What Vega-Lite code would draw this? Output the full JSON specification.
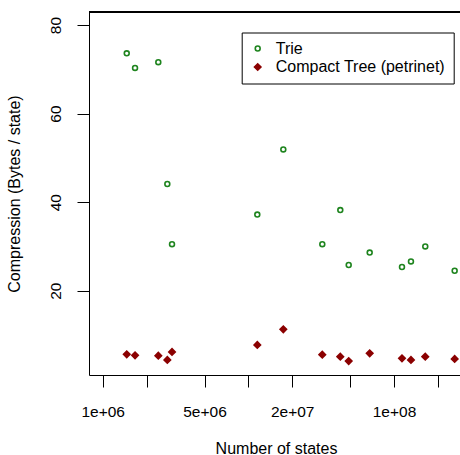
{
  "$schema": "https://vega.github.io/schema/vega-lite/v6.json",
  "width": 371,
  "height": 363,
  "autosize": "none",
  "padding": {"left": 89, "top": 12, "right": 0, "bottom": 80},
  "background": "white",
  "config": {
    "view": {"stroke": null},
    "font": "Liberation Sans",
    "axis": {
      "grid": false,
      "domainColor": "black",
      "domainWidth": 1,
      "tickColor": "black",
      "tickWidth": 1,
      "tickSize": 12,
      "labelColor": "black",
      "titleColor": "black",
      "labelFont": "Liberation Sans",
      "titleFont": "Liberation Sans",
      "labelFontSize": 15.5,
      "titleFontSize": 16,
      "titleFontWeight": "normal"
    }
  },
  "data": {
    "values": [
      {"states": 1462000, "bytes": 73.6, "method": "Trie"},
      {"states": 1667000, "bytes": 70.3, "method": "Trie"},
      {"states": 2408000, "bytes": 71.6, "method": "Trie"},
      {"states": 2777000, "bytes": 44.1, "method": "Trie"},
      {"states": 2991000, "bytes": 30.5, "method": "Trie"},
      {"states": 11520000, "bytes": 37.2, "method": "Trie"},
      {"states": 17380000, "bytes": 51.9, "method": "Trie"},
      {"states": 32190000, "bytes": 30.5, "method": "Trie"},
      {"states": 42790000, "bytes": 38.2, "method": "Trie"},
      {"states": 48870000, "bytes": 25.8, "method": "Trie"},
      {"states": 68100000, "bytes": 28.6, "method": "Trie"},
      {"states": 113500000, "bytes": 25.35, "method": "Trie"},
      {"states": 130800000, "bytes": 26.6, "method": "Trie"},
      {"states": 164000000, "bytes": 30.0, "method": "Trie"},
      {"states": 261000000, "bytes": 24.5, "method": "Trie"},
      {"states": 1462000, "bytes": 5.64, "method": "Compact Tree (petrinet)"},
      {"states": 1667000, "bytes": 5.41, "method": "Compact Tree (petrinet)"},
      {"states": 2408000, "bytes": 5.32, "method": "Compact Tree (petrinet)"},
      {"states": 2777000, "bytes": 4.35, "method": "Compact Tree (petrinet)"},
      {"states": 2991000, "bytes": 6.16, "method": "Compact Tree (petrinet)"},
      {"states": 11520000, "bytes": 7.74, "method": "Compact Tree (petrinet)"},
      {"states": 17380000, "bytes": 11.28, "method": "Compact Tree (petrinet)"},
      {"states": 32190000, "bytes": 5.55, "method": "Compact Tree (petrinet)"},
      {"states": 42790000, "bytes": 5.1, "method": "Compact Tree (petrinet)"},
      {"states": 48870000, "bytes": 4.12, "method": "Compact Tree (petrinet)"},
      {"states": 68100000, "bytes": 5.86, "method": "Compact Tree (petrinet)"},
      {"states": 113500000, "bytes": 4.73, "method": "Compact Tree (petrinet)"},
      {"states": 130800000, "bytes": 4.35, "method": "Compact Tree (petrinet)"},
      {"states": 164000000, "bytes": 5.1, "method": "Compact Tree (petrinet)"},
      {"states": 261000000, "bytes": 4.58, "method": "Compact Tree (petrinet)"}
    ]
  },
  "layer": [
    {
      "mark": {"type": "point", "filled": false, "strokeWidth": 1.6, "opacity": 1},
      "encoding": {
        "x": {
          "field": "states",
          "type": "quantitative",
          "scale": {"type": "log", "domain": [805000, 284000000], "nice": false},
          "axis": {
            "orient": "bottom",
            "values": [1000000, 2000000, 5000000, 10000000, 20000000, 50000000, 100000000, 200000000],
            "labelExpr": "datum.value == 1000000 ? '1e+06' : datum.value == 5000000 ? '5e+06' : datum.value == 20000000 ? '2e+07' : datum.value == 100000000 ? '1e+08' : ''",
            "labelBaseline": "alphabetic",
            "labelPadding": 29.5,
            "labelFlush": false,
            "labelOverlap": false,
            "title": "Number of states",
            "titleBaseline": "alphabetic",
            "titleX": 187,
            "titleY": 78
          }
        },
        "y": {
          "field": "bytes",
          "type": "quantitative",
          "scale": {"domain": [0.96, 82.94], "nice": false, "zero": false},
          "axis": {
            "values": [20, 40, 60, 80],
            "labelAngle": -90,
            "labelAlign": "center",
            "labelBaseline": "bottom",
            "labelPadding": 14,
            "title": "Compression (Bytes / state)",
            "titleAngle": -90,
            "titleAlign": "center",
            "titleBaseline": "alphabetic",
            "titleX": -70,
            "titleY": 181.5
          }
        },
        "color": {
          "field": "method",
          "type": "nominal",
          "scale": {"domain": ["Trie", "Compact Tree (petrinet)"], "range": ["#1E841E", "#8B0000"]},
          "legend": {
            "orient": "none",
            "legendX": 152.7,
            "legendY": 20.5,
            "title": null,
            "padding": 8,
            "strokeColor": "black",
            "fillColor": "white",
            "cornerRadius": 0,
            "labelFont": "Liberation Sans",
            "labelFontSize": 16,
            "labelColor": "black",
            "labelLimit": 400,
            "rowPadding": 2.5,
            "labelOffset": 10,
            "symbolStrokeWidth": 1.6
          }
        },
        "fill": {
          "field": "method",
          "type": "nominal",
          "scale": {"domain": ["Trie", "Compact Tree (petrinet)"], "range": ["transparent", "#8B0000"]}
        },
        "shape": {
          "field": "method",
          "type": "nominal",
          "scale": {"domain": ["Trie", "Compact Tree (petrinet)"], "range": ["circle", "diamond"]}
        },
        "size": {
          "field": "method",
          "type": "nominal",
          "scale": {"domain": ["Trie", "Compact Tree (petrinet)"], "range": [24, 42]}
        }
      }
    },
    {
      "mark": {"type": "rule", "color": "black", "strokeWidth": 1},
      "encoding": {"y": {"datum": 82.94}}
    }
  ]
}
